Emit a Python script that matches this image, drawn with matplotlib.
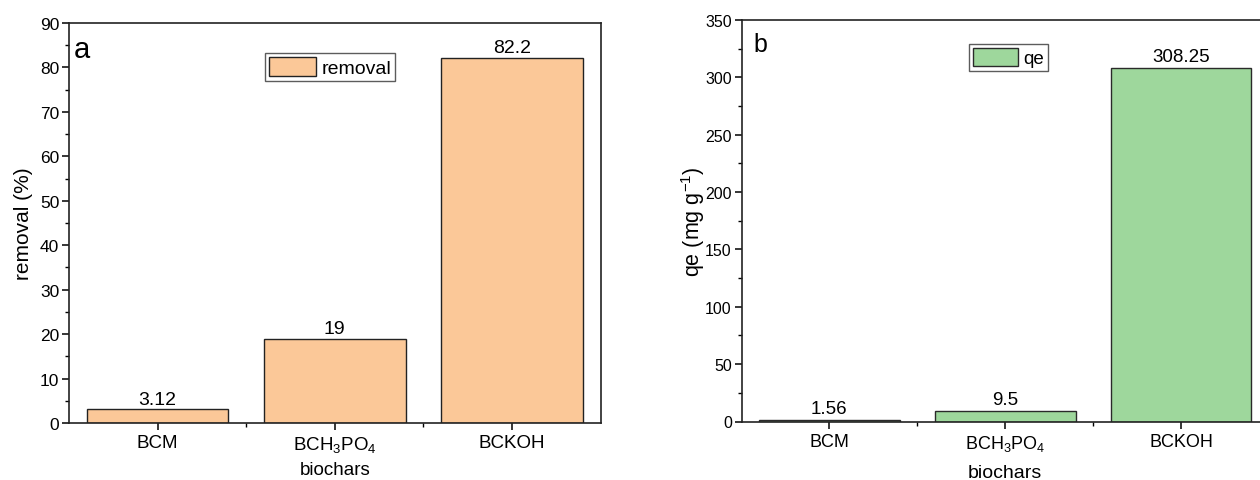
import matplotlib.pyplot as plt

plt.rcParams['font.family'] = ['Liberation Sans', 'DejaVu Sans']
plt.rcParams['mathtext.fontset'] = 'custom'
plt.rcParams['mathtext.rm'] = 'Liberation Sans'
plt.rcParams['mathtext.default'] = 'regular'

# data
biochars = ['BCM', 'BCH$_3$PO$_4$', 'BCKOH']
removal = [3.12, 19, 82.2]
qe = [1.56, 9.5, 308.25]

W, H = 1260, 481
fig = plt.figure(figsize=(W / 100, H / 100), dpi=100)

# axes boxes in pixels: left, top, right, bottom
def box(l, t, r, b):
    return [l / W, 1 - b / H, (r - l) / W, (b - t) / H]

ax1 = fig.add_axes(box(69, 24, 600.5, 424))
ax2 = fig.add_axes(box(741.5, 21, 1269, 422.5))

def style(ax, ymax, ystep, ysize, xsize):
    ax.set_xlim(-0.5, 2.5)
    ax.set_ylim(0, ymax)
    ax.set_yticks(range(0, ymax + 1, ystep))
    ax.set_yticks([v + ystep / 2 for v in range(0, ymax, ystep)], minor=True)
    ax.set_xticks(range(len(biochars)))
    ax.set_xticklabels(biochars)
    ax.set_xticks([0.5, 1.5], minor=True)
    for s in ax.spines.values():
        s.set_linewidth(1.2)
        s.set_color('#222222')
    ax.tick_params(which='major', direction='out', length=5, width=1.1, pad=2)
    ax.tick_params(which='minor', direction='out', length=3, width=1.0)
    ax.tick_params(axis='y', labelsize=ysize)
    ax.tick_params(axis='x', labelsize=xsize, pad=3)

# panel a
b1 = ax1.bar(range(3), removal, width=0.8, color='#FBC898',
             edgecolor='#222222', linewidth=1.0, label='removal')
ax1.bar_label(b1, fmt='%g', fontsize=14, padding=1)
style(ax1, 90, 10, 12.5, 13.5)
ax1.set_ylabel('removal (%)', fontsize=15, labelpad=5)
ax1.set_xlabel('biochars', fontsize=13.5, labelpad=5)
ax1.text(0.009, 0.915, 'a', transform=ax1.transAxes, fontsize=21,
         va='baseline', ha='left')
ax1.legend(loc='upper left', bbox_to_anchor=(0.369, 0.925), fontsize=14,
           frameon=True, fancybox=False, edgecolor='#333333',
           handlelength=2.4, handleheight=1.1, handletextpad=0.3,
           borderpad=0.2, borderaxespad=0)

# panel b
b2 = ax2.bar(range(3), qe, width=0.8, color='#9ED79C',
             edgecolor='#2a2a2a', linewidth=1.0, label='qe')
ax2.bar_label(b2, fmt='%g', fontsize=13.5, padding=2)
style(ax2, 350, 50, 11.5, 13)
ax2.set_ylabel('qe (mg g$^{-1}$)', fontsize=15.5, labelpad=-1)
ax2.set_xlabel('biochars', fontsize=14, labelpad=8)
ax2.text(0.022, 0.923, 'b', transform=ax2.transAxes, fontsize=18,
         va='baseline', ha='left')
ax2.legend(loc='upper left', bbox_to_anchor=(0.431, 0.94), fontsize=13.5,
           frameon=True, fancybox=False, edgecolor='#333333',
           handlelength=2.4, handleheight=1.1, handletextpad=0.3,
           borderpad=0.2, borderaxespad=0)

fig.savefig('out.png', dpi=100)
